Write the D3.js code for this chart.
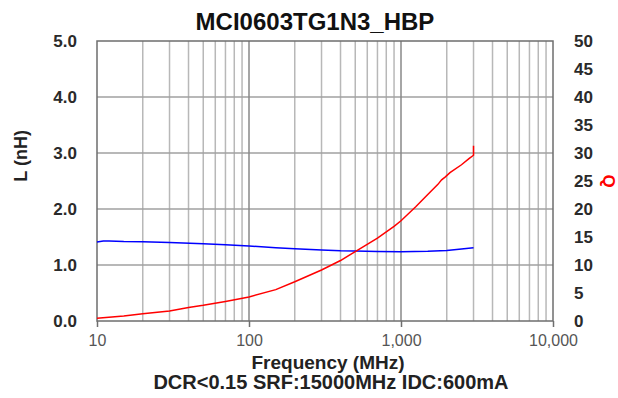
<!DOCTYPE html>
<html>
<head>
<meta charset="utf-8">
<script src="https://cdn.jsdelivr.net/npm/d3@7"></script>
<style>
  body { margin: 0; background: #fff; }
  svg { display: block; }
  text { font-family: Arial, "Liberation Sans", sans-serif; }
</style>
</head>
<body>
<div class="chart"></div>
<script>
// inductance curve (blue, left axis)
const freqL = [10, 11, 12, 15, 20, 30, 50, 70, 100, 150, 200, 300, 400, 500, 700, 1000, 1500, 2000, 2500, 3000];
const valL  = [1.41, 1.43, 1.43, 1.42, 1.415, 1.40, 1.38, 1.36, 1.34, 1.31, 1.29, 1.27, 1.255, 1.25, 1.24, 1.235, 1.245, 1.26, 1.285, 1.31];

// Q curve (red, right axis)
const freqQ = [10, 15, 20, 30, 40, 50, 70, 100, 150, 200, 300, 400, 500, 700, 900, 1000, 1250, 1500, 1750, 1850, 1950, 2100, 2500, 2800, 3000, 3000];
const valQ  = [0.5, 0.9, 1.3, 1.8, 2.4, 2.8, 3.5, 4.3, 5.6, 7.0, 9.1, 10.8, 12.4, 14.8, 16.9, 17.9, 20.4, 22.6, 24.4, 25.2, 25.7, 26.5, 27.9, 29.0, 29.6, 31.3];

const lTicks = [0, 1, 2, 3, 4, 5];
const qTicks = [0, 5, 10, 15, 20, 25, 30, 35, 40, 45, 50];
const fMajor = [10, 100, 1000, 10000];
const fMinor = [20, 30, 40, 50, 60, 70, 80, 90, 200, 300, 400, 500, 600, 700, 800, 900, 2000, 3000, 4000, 5000, 6000, 7000, 8000, 9000];

const title = "MCI0603TG1N3_HBP";
const xTitle = "Frequency (MHz)";
const note = "DCR<0.15 SRF:15000MHz IDC:600mA";

const W = 618, H = 398;
const margin = {top: 41, right: 65, bottom: 77, left: 97};
const pw = W - margin.left - margin.right;
const ph = H - margin.top - margin.bottom;

const svg = d3.select(".chart").append("svg")
  .attr("width", W).attr("height", H);

const g = svg.append("g")
  .attr("transform", "translate(" + margin.left + "," + margin.top + ")");

const x = d3.scaleLog().domain([10, 10000]).range([0, pw]);
const yL = d3.scaleLinear().domain([0, 5]).range([ph, 0]);
const yQ = d3.scaleLinear().domain([0, 50]).range([ph, 0]);

// grid
g.append("g").selectAll("line").data(fMinor).enter().append("line")
  .attr("x1", d => x(d)).attr("x2", d => x(d))
  .attr("y1", 0).attr("y2", ph)
  .attr("stroke", "#b8b8b8").attr("stroke-width", 1.5);

g.append("g").selectAll("line").data(lTicks.slice(1, -1)).enter().append("line")
  .attr("x1", 0).attr("x2", pw)
  .attr("y1", d => yL(d)).attr("y2", d => yL(d))
  .attr("stroke", "#a0a0a0").attr("stroke-width", 1.5);

g.append("g").selectAll("line").data(fMajor.slice(1, -1)).enter().append("line")
  .attr("x1", d => x(d)).attr("x2", d => x(d))
  .attr("y1", 0).attr("y2", ph)
  .attr("stroke", "#888").attr("stroke-width", 1.5);

// frame
g.append("rect")
  .attr("width", pw).attr("height", ph)
  .attr("fill", "none").attr("stroke", "#6e6e6e").attr("stroke-width", 1.5);

// bottom axis
const xAxis = g.append("g")
  .attr("transform", "translate(0," + ph + ")")
  .call(d3.axisBottom(x).tickValues(fMajor).tickSize(6).tickPadding(8)
    .tickFormat(d3.format(",")));
xAxis.select(".domain").remove();
xAxis.selectAll(".tick line").attr("stroke", "#6e6e6e").attr("stroke-width", 1.5);
xAxis.selectAll(".tick text")
  .attr("font-family", "'Liberation Serif', 'Times New Roman', serif")
  .attr("font-size", 16).attr("fill", "#555");

// left axis
const yAxisL = g.append("g")
  .call(d3.axisLeft(yL).tickValues(lTicks).tickSize(0).tickPadding(20)
    .tickFormat(d3.format(".1f")));
yAxisL.select(".domain").remove();
yAxisL.selectAll(".tick text")
  .attr("font-size", 17).attr("font-weight", "bold").attr("fill", "#2a2a2a");

// right axis
const yAxisR = g.append("g")
  .attr("transform", "translate(" + pw + ",0)")
  .call(d3.axisRight(yQ).tickValues(qTicks).tickSize(0).tickPadding(21));
yAxisR.select(".domain").remove();
yAxisR.selectAll(".tick text")
  .attr("font-size", 17).attr("font-weight", "bold").attr("fill", "#2a2a2a");

// curves
const lineL = d3.line().x((d, i) => x(freqL[i])).y(d => yL(d));
const lineQ = d3.line().x((d, i) => x(freqQ[i])).y(d => yQ(d));

g.append("path").datum(valL)
  .attr("d", lineL).attr("fill", "none")
  .attr("stroke", "#0000ff").attr("stroke-width", 1.5);

g.append("path").datum(valQ)
  .attr("d", lineQ).attr("fill", "none")
  .attr("stroke", "#ff0000").attr("stroke-width", 1.5);

// texts
svg.append("text")
  .attr("x", 315).attr("y", 30)
  .attr("text-anchor", "middle")
  .attr("font-size", 24).attr("font-weight", "bold").attr("fill", "#111")
  .text(title);

svg.append("text")
  .attr("transform", "translate(27," + (margin.top + yL(2.95)) + ") rotate(-90)")
  .attr("text-anchor", "middle")
  .attr("font-size", 18).attr("font-weight", "bold").attr("fill", "#222")
  .text("L (nH)");

svg.append("text")
  .attr("transform", "translate(603," + (margin.top + yQ(25)) + ") rotate(90)")
  .attr("text-anchor", "middle")
  .attr("font-size", 17).attr("font-weight", "bold").attr("fill", "#ff0000")
  .text("Q");

svg.append("text")
  .attr("x", 328).attr("y", 369)
  .attr("text-anchor", "middle")
  .attr("font-size", 19).attr("font-weight", "bold").attr("fill", "#222")
  .text(xTitle);

svg.append("text")
  .attr("x", 331).attr("y", 389)
  .attr("text-anchor", "middle")
  .attr("font-size", 20).attr("font-weight", "bold").attr("fill", "#222")
  .text(note);
</script>
</body>
</html>
